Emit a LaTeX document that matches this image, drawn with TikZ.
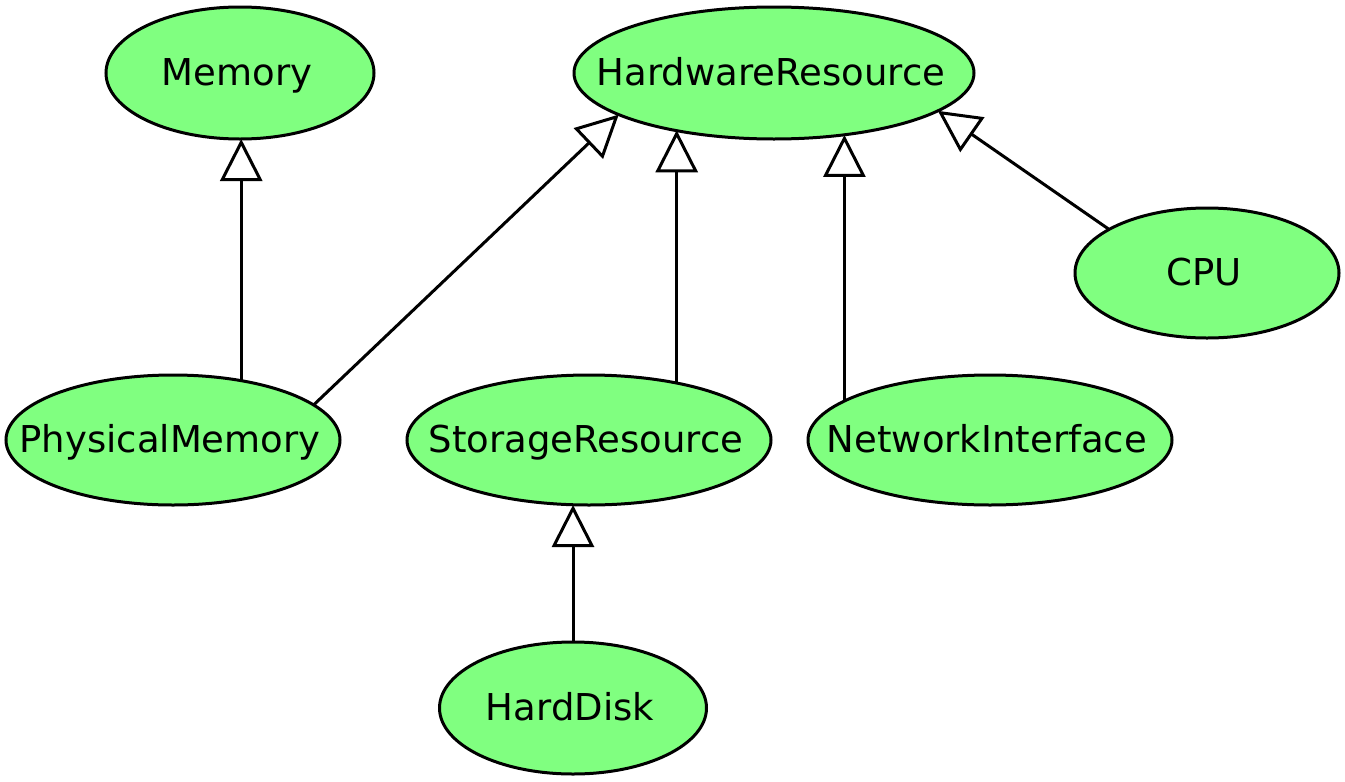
\documentclass[tikz,border=0pt]{standalone}
\usepackage{fontspec}
\setmainfont{DejaVu Sans}
\usetikzlibrary{shapes.geometric,arrows.meta}
\definecolor{nodegreen}{HTML}{80FF80}
\tikzset{
  cls/.style={ellipse, draw=black, fill=nodegreen, line width=1.5pt, inner sep=0pt, outer sep=0pt},
  inh/.style={line width=1.5pt, -{Triangle[open, length=21pt, width=21pt, fill=white]}},
}
\newcommand{\lbl}[1]{\smash{\makebox[0pt]{\hspace*{-3pt}\raisebox{-0.6em}{\fontsize{18.5pt}{21pt}\selectfont #1}}}}
\begin{document}
\begin{tikzpicture}[x=0.5pt,y=-0.5pt]
\useasboundingbox (0,0) rectangle (1345,782);
\node[cls, minimum width=134pt, minimum height=66pt] (mem) at (240,73) {\lbl{Memory}};
\node[cls, minimum width=200pt, minimum height=66pt] (hwr) at (774,73) {\lbl{HardwareResource}};
\node[cls, minimum width=132pt, minimum height=65pt] (cpu) at (1207,273) {\lbl{CPU}};
\node[cls, minimum width=167pt, minimum height=65pt] (pm) at (173,440) {\lbl{PhysicalMemory}};
\node[cls, minimum width=182pt, minimum height=65pt] (sr) at (589,440) {\lbl{StorageResource}};
\node[cls, minimum width=182pt, minimum height=65pt] (ni) at (990,440) {\lbl{NetworkInterface}};
\node[cls, minimum width=133.5pt, minimum height=66pt] (hd) at (573,708) {\lbl{HardDisk}};
\draw[inh] (pm.41.8) -- (pm.41.8 |- mem.south);
\draw[inh] (pm.14.5) -- (hwr.195);
\draw[inh] (sr.33.7) -- (sr.33.7 |- hwr.210.6);
\draw[inh] (ni.165.5) -- (ni.165.5 |- hwr.318);
\draw[inh] (cpu.156.3) -- (hwr.347);
\draw[inh] (hd.north) -- (hd.north |- sr.south);
\end{tikzpicture}
\end{document}
